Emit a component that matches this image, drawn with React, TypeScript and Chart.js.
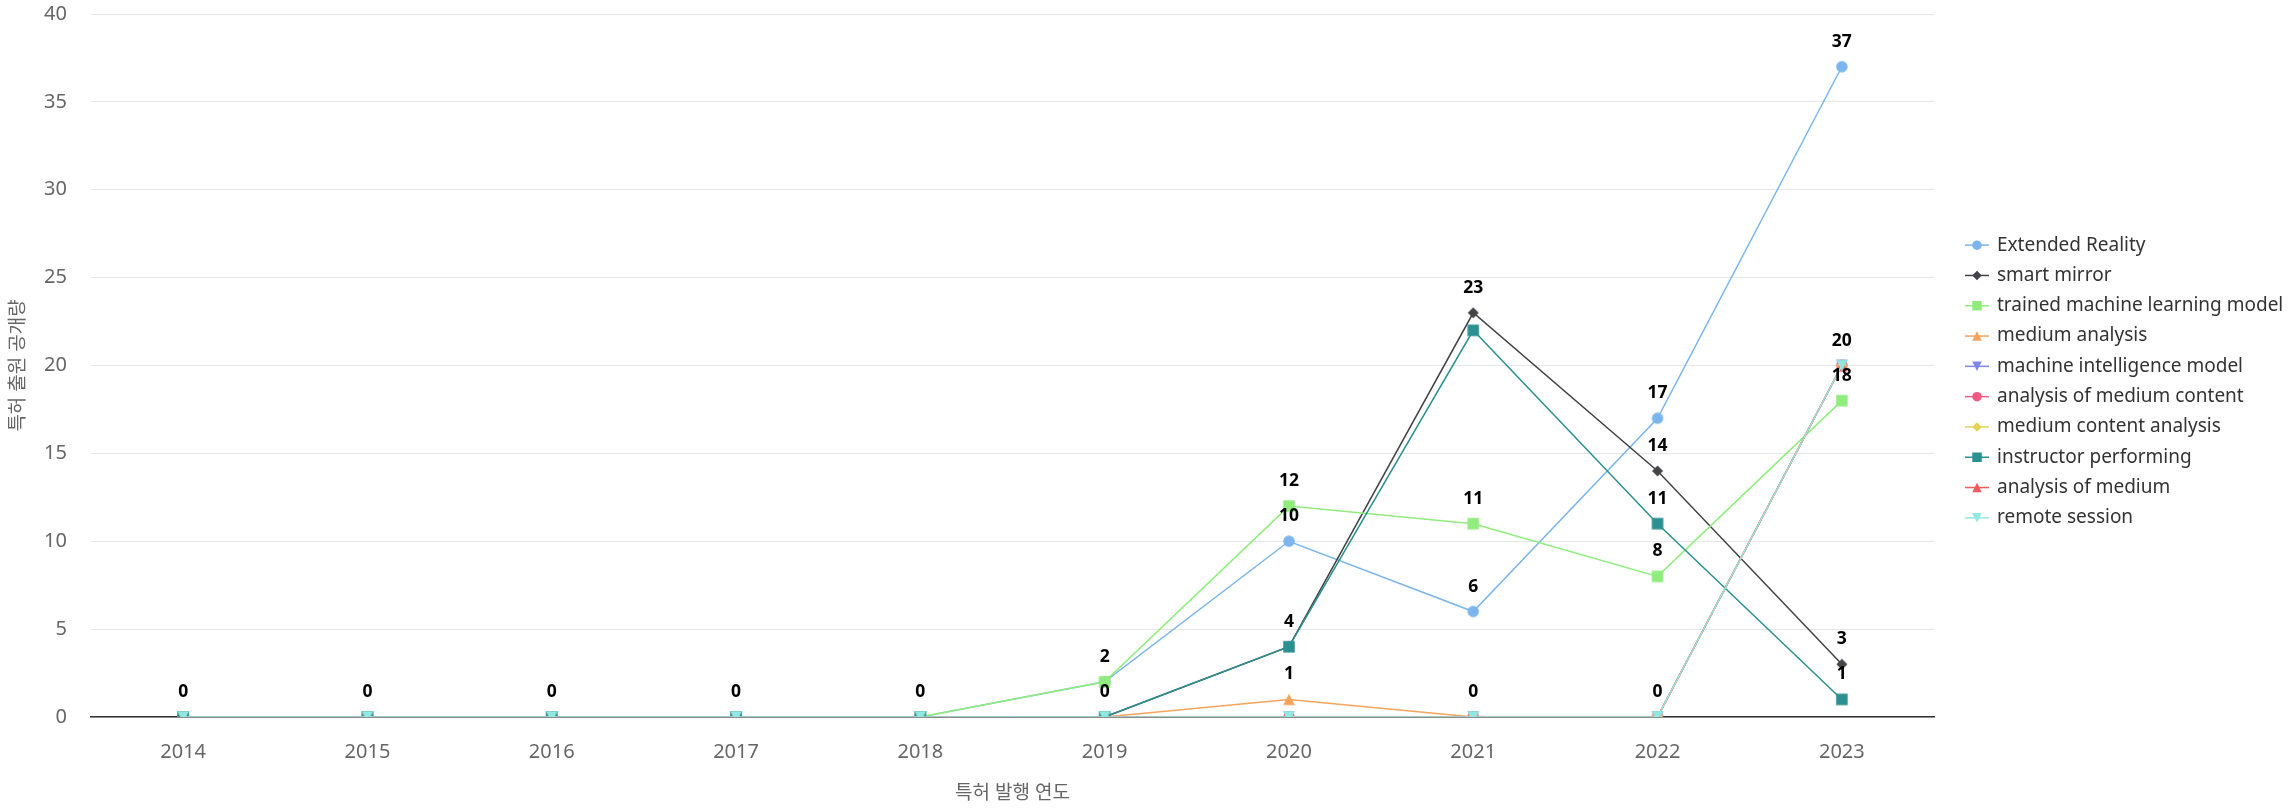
import { useEffect, useRef } from 'react';
import { Chart, registerables } from 'chart.js';

Chart.register(...registerables);

// ---- data ----
const years = ['2014', '2015', '2016', '2017', '2018', '2019', '2020', '2021', '2022', '2023'];
const extendedReality = [0, 0, 0, 0, 0, 2, 10, 6, 17, 37];
const smartMirror = [0, 0, 0, 0, 0, 0, 4, 23, 14, 3];
const trainedMachineLearningModel = [0, 0, 0, 0, 0, 2, 12, 11, 8, 18];
const mediumAnalysis = [0, 0, 0, 0, 0, 0, 1, 0, 0, 20];
const machineIntelligenceModel = [0, 0, 0, 0, 0, 0, 0, 0, 0, 20];
const analysisOfMediumContent = [0, 0, 0, 0, 0, 0, 0, 0, 0, 20];
const mediumContentAnalysis = [0, 0, 0, 0, 0, 0, 0, 0, 0, 20];
const instructorPerforming = [0, 0, 0, 0, 0, 0, 4, 22, 11, 1];
const analysisOfMedium = [0, 0, 0, 0, 0, 0, 0, 0, 0, 20];
const remoteSession = [0, 0, 0, 0, 0, 0, 0, 0, 0, 20];

const seriesNames = [
  'Extended Reality',
  'smart mirror',
  'trained machine learning model',
  'medium analysis',
  'machine intelligence model',
  'analysis of medium content',
  'medium content analysis',
  'instructor performing',
  'analysis of medium',
  'remote session',
];
const seriesValues = [
  extendedReality,
  smartMirror,
  trainedMachineLearningModel,
  mediumAnalysis,
  machineIntelligenceModel,
  analysisOfMediumContent,
  mediumContentAnalysis,
  instructorPerforming,
  analysisOfMedium,
  remoteSession,
];
const seriesColors = [
  '#7cb5ec', '#434348', '#90ed7d', '#f7a35c', '#8085e9',
  '#f15c80', '#e4d354', '#2b908f', '#f45b5b', '#91e8e1',
];
const seriesShapes = [
  'circle', 'diamond', 'square', 'triangle', 'triangle-down',
  'circle', 'diamond', 'square', 'triangle', 'triangle-down',
];

const yTitle = '특허 출원 공개량';
const xTitle = '특허 발행 연도';
const FONT = "'Noto Sans', 'Noto Sans CJK KR', sans-serif";

// Draw a Highcharts-like symbol fitted in a box of side `s` centred on (x, y)
function symbolPath(ctx: CanvasRenderingContext2D, shape: string, x: number, y: number, s: number) {
  const h = s / 2;
  ctx.beginPath();
  if (shape === 'circle') {
    ctx.arc(x, y, h, 0, Math.PI * 2);
  } else if (shape === 'diamond') {
    ctx.moveTo(x, y - h);
    ctx.lineTo(x + h, y);
    ctx.lineTo(x, y + h);
    ctx.lineTo(x - h, y);
    ctx.closePath();
  } else if (shape === 'square') {
    ctx.rect(x - h, y - h, s, s);
  } else if (shape === 'triangle') {
    ctx.moveTo(x, y - h);
    ctx.lineTo(x + h, y + h);
    ctx.lineTo(x - h, y + h);
    ctx.closePath();
  } else {
    ctx.moveTo(x - h, y - h);
    ctx.lineTo(x + h, y - h);
    ctx.lineTo(x, y + h);
    ctx.closePath();
  }
}

function markerSize(shape: string) {
  if (shape === 'diamond') return 11;
  if (shape === 'square') return 11.5;
  return 11.5;
}

function makeMarker(shape: string, color: string) {
  const c = document.createElement('canvas');
  c.width = 16;
  c.height = 16;
  const ctx = c.getContext('2d') as CanvasRenderingContext2D;
  ctx.fillStyle = color;
  symbolPath(ctx, shape, 8, 8, markerSize(shape));
  ctx.fill();
  return c;
}

const dataLabelPlugin = {
  id: 'dataLabels',
  afterDatasetsDraw(chart: any) {
    const ctx = chart.ctx;
    const fontSize = 17.5;
    ctx.save();
    ctx.font = `bold ${fontSize}px ${FONT}`;
    ctx.fillStyle = '#000000';
    ctx.textAlign = 'center';
    ctx.textBaseline = 'alphabetic';
    const items: any[] = [];
    chart.data.datasets.forEach((ds: any, di: number) => {
      const meta = chart.getDatasetMeta(di);
      meta.data.forEach((pt: any, i: number) => {
        items.push({ v: ds.data[i], x: pt.x, y: pt.y, di });
      });
    });
    items.sort((a, b) => b.v - a.v || b.di - a.di);
    const boxes: any[] = [];
    for (const it of items) {
      const text = String(it.v);
      const w = ctx.measureText(text).width + 4;
      const base = it.y - 20;
      const box = { l: it.x - w / 2, r: it.x + w / 2, t: base - fontSize + 2, b: base + 3 };
      const hit = boxes.some((b) => !(box.r < b.l || box.l > b.r || box.b < b.t || box.t > b.b));
      if (hit) continue;
      boxes.push(box);
      ctx.fillText(text, it.x, base);
    }
    ctx.restore();
  },
};

const legendPlugin = {
  id: 'customLegend',
  afterDraw(chart: any) {
    const ctx = chart.ctx;
    const area = chart.chartArea;
    const spacing = 30.3;
    const n = seriesNames.length;
    const centerY = (area.top + area.bottom) / 2 + 16;
    const startY = centerY - ((n - 1) * spacing) / 2;
    const lineX0 = area.right + 31;
    const lineX1 = lineX0 + 24;
    const textX = area.right + 63;
    ctx.save();
    ctx.font = `19px ${FONT}`;
    ctx.textBaseline = 'middle';
    ctx.textAlign = 'left';
    for (let i = 0; i < n; i++) {
      const y = startY + i * spacing;
      const color = seriesColors[i];
      ctx.strokeStyle = color;
      ctx.lineWidth = 1.5;
      ctx.beginPath();
      ctx.moveTo(lineX0, y);
      ctx.lineTo(lineX1, y);
      ctx.stroke();
      ctx.fillStyle = color;
      symbolPath(ctx, seriesShapes[i], (lineX0 + lineX1) / 2, y, 9.5);
      ctx.fill();
      ctx.fillStyle = '#333333';
      ctx.fillText(seriesNames[i], textX, y);
    }
    ctx.restore();
  },
};

export default function App() {
  const canvasRef = useRef<HTMLCanvasElement | null>(null);

  useEffect(() => {
    document.body.style.margin = '0';
    const canvas = canvasRef.current;
    if (!canvas) return;
    const datasets = seriesNames.map((name, i) => {
      return {
        label: name,
        data: seriesValues[i],
        borderColor: seriesColors[i],
        backgroundColor: seriesColors[i],
        borderWidth: 1.5,
        pointStyle: makeMarker(seriesShapes[i], seriesColors[i]),
        pointRadius: 6,
        pointBorderWidth: 0,
        pointBackgroundColor: seriesColors[i],
        tension: 0,
        fill: false,
        order: seriesNames.length - i,
      };
    });
    const chart = new Chart(canvas, {
      type: 'line',
      data: { labels: years, datasets },
      options: {
        animation: false,
        responsive: false,
        events: [],
        layout: { padding: { top: 14, right: 360, left: 0, bottom: 0 } },
        plugins: {
          legend: { display: false },
          tooltip: { enabled: false },
        },
        scales: {
          x: {
            type: 'category',
            offset: true,
            grid: { display: false, drawTicks: false },
            border: { display: true, color: '#333333', width: 1.5 },
            ticks: { color: '#666666', font: { family: FONT, size: 20 }, padding: 23 },
            title: {
              display: true,
              text: xTitle,
              color: '#666666',
              font: { family: FONT, size: 19 },
              padding: { top: 0, bottom: 4 },
            },
            afterFit: (s: any) => {
              s.height = 92;
              s.paddingLeft = 0;
              s.paddingRight = 0;
            },
          },
          y: {
            min: 0,
            max: 40,
            ticks: { stepSize: 5, color: '#666666', font: { family: FONT, size: 20 }, padding: 24 },
            grid: { color: '#e6e6e6', drawTicks: false, lineWidth: 1 },
            border: { display: false },
            title: {
              display: true,
              text: yTitle,
              color: '#666666',
              font: { family: FONT, size: 19 },
              padding: { top: 7, bottom: 0 },
            },
            afterFit: (s: any) => {
              s.width = 91;
              s.paddingTop = 0;
              s.paddingBottom = 0;
            },
          },
        },
      },
      plugins: [dataLabelPlugin, legendPlugin],
    } as any);
    return () => chart.destroy();
  }, []);

  return (
    <div style={{ width: 2294, height: 809 }}>
      <canvas ref={canvasRef} width={2294} height={809} style={{ display: 'block' }} />
    </div>
  );
}
